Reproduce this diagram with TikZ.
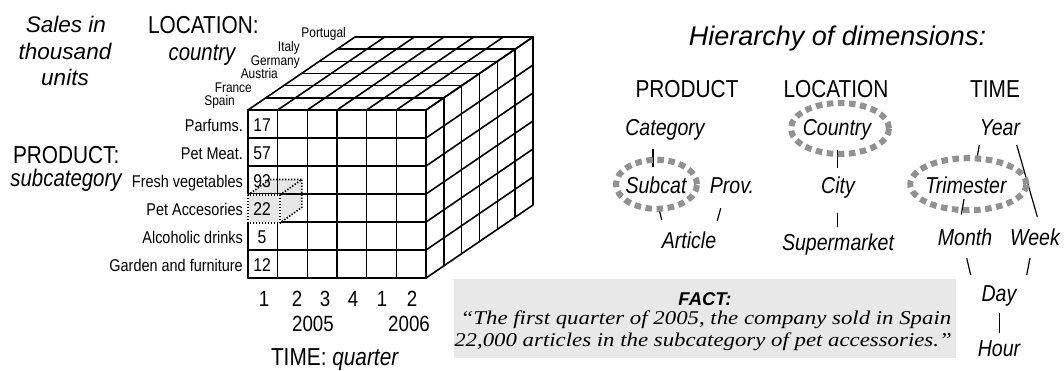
\documentclass[tikz,border=0pt]{standalone}
\usepackage{fontspec}
\setmainfont{Liberation Sans}[FakeStretch=0.85]
\newfontfamily\widefont{Liberation Sans}
\newfontfamily\factserif{Liberation Serif}[FakeStretch=1.17]
\usetikzlibrary{calc}
\newcommand\fsz[1]{\fontsize{#1}{#1}\selectfont}
\definecolor{boxgray}{RGB}{232,232,232}
\definecolor{hlgray}{RGB}{230,230,230}
\definecolor{elgray}{RGB}{145,145,145}
\tikzset{
  cube/.style={line width=1.6pt, line cap=round},
  dotline/.style={line width=1.6pt, dash pattern=on 1.4pt off 1.6pt},
  lbl/.style={inner sep=0pt, outer sep=0pt, anchor=base},
  rowlbl/.style={inner sep=0pt, anchor=base east, font=\fsz{17}},
  ctrylbl/.style={inner sep=0pt, anchor=base east, font=\fsz{14}},
  numlbl/.style={inner sep=0pt, anchor=base, font=\fsz{18.5}},
  qlbl/.style={inner sep=0pt, anchor=base, font=\fsz{22}},
  head/.style={inner sep=0pt, anchor=base, font=\fsz{24.5}},
  lev/.style={inner sep=0pt, anchor=base, font=\fsz{23}\itshape},
  conn/.style={line width=1.2pt},
  dimring/.style={draw=elgray, line width=6pt, dash pattern=on 6.5pt off 4.6pt},
}
\begin{document}
\begin{tikzpicture}[x=1pt,y=-1pt]
\useasboundingbox (0,0) rectangle (1064,370);

% ---------- left labels ----------
\node[lbl, font=\widefont\fsz{22.5}\itshape] (sales1) at (66,32) {Sales in};
\node[lbl, font=\widefont\fsz{22.5}\itshape] (sales2) at (65,59.5) {thousand};
\node[lbl, font=\widefont\fsz{22.5}\itshape] (sales3) at (65,85) {units};
\node[lbl, anchor=base west, font=\fsz{24.5}] (loc) at (148,33) {LOCATION:};
\node[lbl, font=\fsz{24}\itshape] (locsub) at (202,60) {country};
\node[lbl, anchor=base west, font=\fsz{24.5}] (prod) at (13,163) {PRODUCT:};
\node[lbl, font=\fsz{24}\itshape] (prodsub) at (66,186.5) {subcategory};

% ---------- highlighted small cube (back faces) ----------
\fill[hlgray] (248,195) -- (269.7,179.5) -- (301.7,179.5) -- (280,195) -- cycle;
\fill[hlgray] (280,195) -- (301.7,179.5) -- (301.7,207.5) -- (280,223) -- cycle;

% ---------- cube grid ----------
\foreach \i in {0,...,6} {
  \pgfmathsetmacro\xx{248+29.667*\i}
  \draw[cube] (\xx,110) -- (\xx,278);
  \draw[cube] (\xx,110) -- ++(107,-73);
}
\foreach \j in {0,...,6} {
  \pgfmathsetmacro\yy{110+28*\j}
  \draw[cube] (248,\yy) -- (426,\yy);
  \draw[cube] (426,\yy) -- ++(107,-73);
}
\foreach \k in {1,...,6} {
  \pgfmathsetmacro\xa{248+17.833*\k}
  \pgfmathsetmacro\xb{426+17.833*\k}
  \pgfmathsetmacro\ya{110-12.167*\k}
  \pgfmathsetmacro\yb{278-12.167*\k}
  \draw[cube] (\xa,\ya) -- (\xb,\ya);
  \draw[cube] (\xb,\ya) -- (\xb,\yb);
}

% ---------- highlighted small cube (front + dotted edges) ----------
\filldraw[fill=hlgray, draw=white, line width=2pt] (248,195) rectangle (280,223);
\draw[dotline] (248,195) rectangle (280,223);
\draw[dotline] (248,195) -- (269.7,179.5) -- (301.7,179.5) -- (280,195);
\draw[dotline] (301.7,179.5) -- (301.7,207.5) -- (280,223);

% ---------- country labels ----------
\node[ctrylbl] (spain) at (235,105) {Spain};
\node[ctrylbl] (france) at (252,92.3) {France};
\node[ctrylbl] (austria) at (278,78.5) {Austria};
\node[ctrylbl] (germany) at (300,65) {Germany};
\node[ctrylbl] (italy) at (300,51.7) {Italy};
\node[ctrylbl] (portugal) at (346,37) {Portugal};

% ---------- product rows and values ----------
\node[rowlbl] (r1) at (243,131.5) {Parfums.};
\node[rowlbl] (r2) at (243,159.5) {Pet Meat.};
\node[rowlbl] (r3) at (243,187.5) {Fresh vegetables};
\node[rowlbl] (r4) at (243,215.5) {Pet Accesories};
\node[rowlbl] (r5) at (243,243.5) {Alcoholic drinks};
\node[rowlbl] (r6) at (243,271.5) {Garden and furniture};
\node[numlbl] (v1) at (262,131.5) {17};
\node[numlbl] (v2) at (262,159.5) {57};
\node[numlbl] (v3) at (262,187.5) {93};
\node[numlbl] (v4) at (262,215.5) {22};
\node[numlbl] (v5) at (262,243.5) {5};
\node[numlbl] (v6) at (262,271.5) {12};

% ---------- time axis ----------
\node[qlbl] (q1) at (264,306.5) {1};
\node[qlbl] (q2) at (297,306.5) {2};
\node[qlbl] (q3) at (325,306.5) {3};
\node[qlbl] (q4) at (353,306.5) {4};
\node[qlbl] (q5) at (382,306.5) {1};
\node[qlbl] (q6) at (412,306.5) {2};
\node[qlbl] (y2005) at (313,331.5) {2005};
\node[qlbl] (y2006) at (409,331.5) {2006};
\node[lbl, font=\fsz{24.5}] (timeax) at (335,365) {TIME: \textit{quarter}};

% ---------- fact box ----------
\node[fill=boxgray, minimum width=502pt, minimum height=79pt, anchor=north west, inner sep=0pt] (factbox) at (454,279) {};
\node[lbl, font=\widefont\fsz{18.5}\bfseries\itshape] (facttitle) at (705,305) {FACT:};
\node[lbl, font=\factserif\fsz{19.5}\itshape] (fact1) at (706,324) {“The first quarter of 2005, the company sold in Spain};
\node[lbl, font=\factserif\fsz{19.5}\itshape] (fact2) at (703,346.7) {22,000 articles in the subcategory of pet accessories.”};

% ---------- hierarchy ----------
\node[lbl, font=\widefont\fsz{27}\itshape] (htitle) at (837.5,45) {Hierarchy of dimensions:};
\node[head] (hprod) at (687,97.5) {PRODUCT};
\node[head] (hloc) at (836,97) {LOCATION};
\node[head] (htime) at (995,97) {TIME};

% connectors
\draw[conn] (653,149) -- (653,167);            % Category - Subcat
\draw[conn] (659.3,210) -- (661.7,220);        % Subcat - Article
\draw[conn] (720.7,208.3) -- (717.3,220.7);    % Prov. - Article
\draw[conn] (837.3,150) -- (837.3,168);        % Country - City
\draw[conn] (837.3,213) -- (837.3,226.7);      % City - Supermarket
\draw[conn] (979.3,145) -- (976.7,160);        % Year - Trimester
\draw[conn] (1016.7,145) -- (1037.3,216.7);    % Year - Week
\draw[conn] (964,199) -- (961.3,214.5);        % Trimester - Month
\draw[conn] (966.7,258.3) -- (970.7,275);      % Month - Day
\draw[conn] (1030,258) -- (1026.7,275);        % Week - Day
\draw[conn] (999.3,313) -- (999.3,333);        % Day - Hour

% dashed rings
\draw[dimring] (840,128.5) ellipse [x radius=49pt, y radius=25.5pt];
\draw[dimring] (656.5,184.3) ellipse [x radius=40.5pt, y radius=24.5pt];
\draw[dimring] (968.3,184.2) ellipse [x radius=58pt, y radius=26pt];

% levels
\node[lev] (cat) at (665,135) {Category};
\node[lev] (subcat) at (656,193) {Subcat};
\node[lev] (prov) at (732,193) {Prov.};
\node[lev] (article) at (689,248.3) {Article};
\node[lev] (country) at (837,135) {Country};
\node[lev] (city) at (838,193) {City};
\node[lev] (superm) at (838,250) {Supermarket};
\node[lev] (year) at (1000,135) {Year};
\node[lev] (trim) at (966,193) {Trimester};
\node[lev] (month) at (965,245) {Month};
\node[lev] (week) at (1035,245) {Week};
\node[lev] (day) at (999,301.7) {Day};
\node[lev] (hour) at (999,356.7) {Hour};
\end{tikzpicture}
\end{document}
